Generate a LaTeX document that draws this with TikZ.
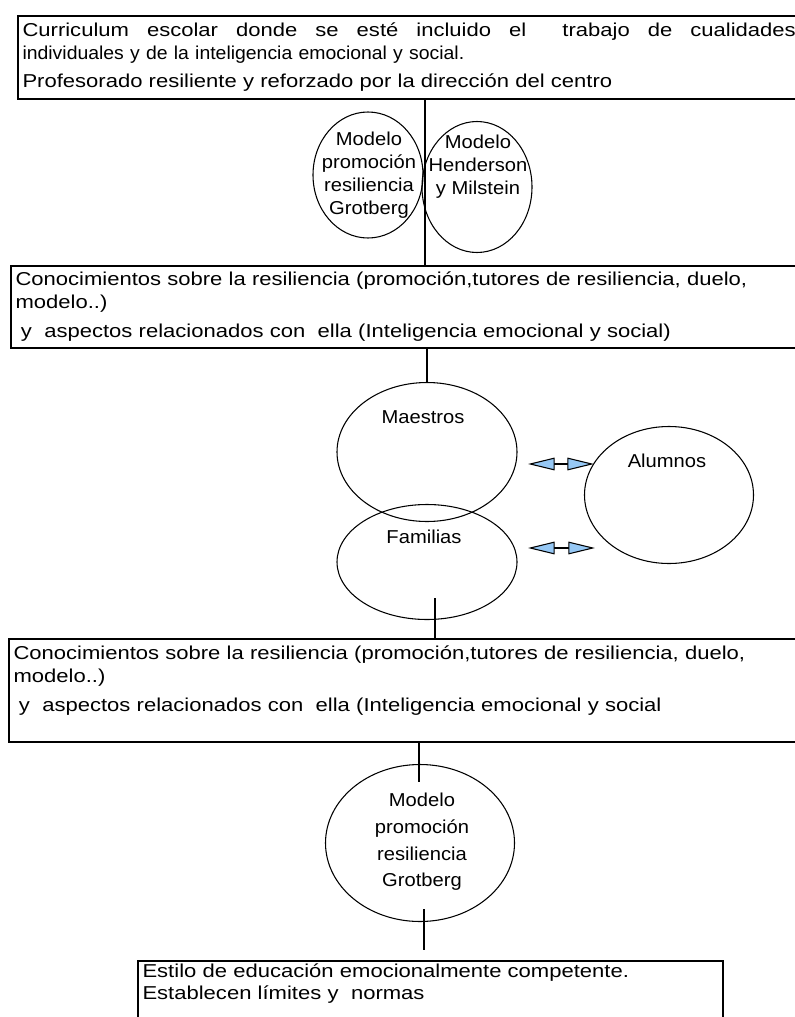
\documentclass[tikz,border=0pt]{standalone}
\usepackage{fontspec}
\setmainfont{Liberation Sans}
\newfontfamily\boxfont[FakeStretch=1.18]{Liberation Sans}
\newfontfamily\ovalfont[FakeStretch=1.08]{Liberation Sans}
\newfontfamily\tightfont[FakeStretch=1.04]{Liberation Sans}
\usetikzlibrary{shapes.geometric,arrows.meta}
\definecolor{tipblue}{RGB}{150,200,245}
\tikzset{
  box/.style={draw,line width=1.3pt,rectangle,anchor=north west,align=left,inner xsep=3.5pt,inner ysep=2pt,
    font=\boxfont\fontsize{14}{17}\selectfont},
  oval/.style={draw,line width=0.8pt,ellipse,inner sep=0pt},
  txt/.style={align=center,inner sep=0pt,font=\ovalfont\fontsize{14}{17.25}\selectfont},
  link/.style={line width=0.8pt},
  both/.style={line width=0.8pt,{Triangle[length=20pt,width=9.5pt,fill=tipblue]}-{Triangle[length=20pt,width=9.5pt,fill=tipblue]}}
}
\begin{document}
\begin{tikzpicture}[x=0.75pt,y=-0.75pt]
\useasboundingbox (0,0) rectangle (795,1017);

% boxes
\node[box,text width=587pt,minimum height=62.25pt] (curr) at (17,15)
  {\makebox[580pt][l]{Curriculum\hfill escolar\hfill donde\hfill se\hfill esté\hfill incluido\hfill el\hfill\hfill trabajo\hfill de\hfill cualidades}\\
   {\tightfont individuales y de la inteligencia emocional y social.}\\[4pt]
   Profesorado resiliente y reforzado por la dirección del centro};
\node[box,text width=593pt,minimum height=61.5pt] (con1) at (10,265)
  {Conocimientos sobre la resiliencia (promoción,tutores de resiliencia, duelo,\\
   modelo..)\\[5pt]
   \hspace{4pt}y\ \ aspectos relacionados con\ \ ella (Inteligencia emocional y social)};
\node[box,text width=595pt,minimum height=77.25pt] (con2) at (8,638)
  {Conocimientos sobre la resiliencia (promoción,tutores de resiliencia, duelo,\\
   modelo..)\\[5pt]
   \hspace{4pt}y\ \ aspectos relacionados con\ \ ella (Inteligencia emocional y social\\
   \mbox{}};
\node[box,text width=431.75pt] (estilo) at (137,960)
  {Estilo de educación emocionalmente competente.\\
   Establecen límites y\ \ normas\\
   \mbox{}};

% ovals
\node[oval,minimum width=82.5pt,minimum height=94.5pt] (grot1) at (368,175) {};
\node[oval,minimum width=82.5pt,minimum height=98.25pt] (hend) at (477,187) {};
\node[oval,minimum width=135pt,minimum height=104.25pt] (maes) at (427,452) {};
\node[oval,minimum width=135pt,minimum height=86.25pt] (fam) at (427,562) {};
\node[oval,minimum width=126.75pt,minimum height=102.75pt] (alum) at (669,495) {};
\node[oval,minimum width=141.75pt,minimum height=117.75pt] (grot2) at (420,843) {};

% oval texts
\node[txt] (grot1t) at (369,175) {Modelo\\promoción\\resiliencia\\Grotberg};
\node[txt] (hendt) at (478,167) {Modelo\\Henderson\\y Milstein};
\node[txt] (maest) at (423,417) {Maestros};
\node[txt] (famt) at (424,537) {Familias};
\node[txt] (alumt) at (667,461) {Alumnos};
\node[txt,font=\ovalfont\fontsize{14}{20}\selectfont] (grot2t) at (422,842) {Modelo\\promoción\\resiliencia\\Grotberg};

% connectors
\coordinate (ax1) at (425,0);
\draw[link] (curr.south -| ax1) -- (con1.north -| ax1);
\draw[link] (con1.south -| maes.north) -- (maes.north);
\coordinate (fam1) at (435,598);
\draw[link] (fam1) -- (con2.north -| fam1);
\coordinate (grot2a) at (419,782);
\draw[link] (con2.south -| grot2a) -- (grot2a);
\coordinate (grot2b) at (424,909);
\coordinate (est1) at (424,950);
\draw[link] (grot2b) -- (est1);

% double arrows
\coordinate (am1) at (528,464);
\coordinate (am2) at (594,464);
\coordinate (af1) at (528,548);
\coordinate (af2) at (595,548);
\draw[both] (am1) -- (am2);
\draw[both] (af1) -- (af2);
\end{tikzpicture}
\end{document}
